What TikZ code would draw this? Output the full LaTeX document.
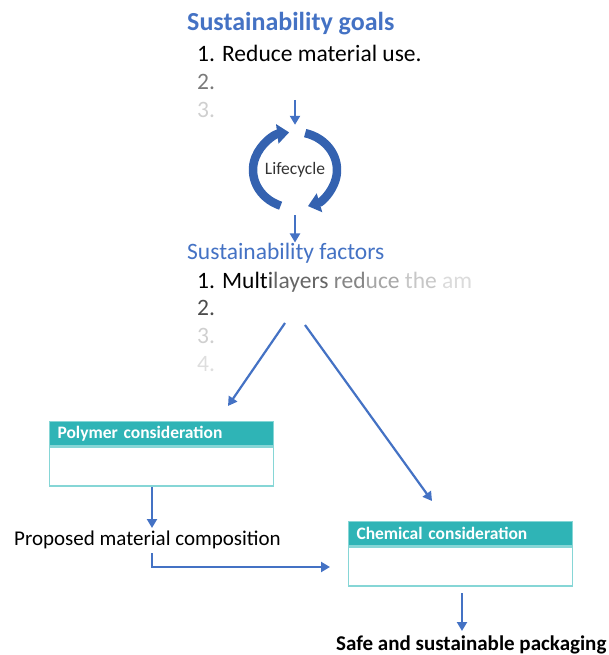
\documentclass[tikz,border=0pt]{standalone}
\usepackage{fontspec}
\setmainfont{Carlito}
\usepackage{xcolor}
\usetikzlibrary{arrows.meta}

\definecolor{goalblue}{HTML}{4472C4}
\definecolor{cycleblue}{HTML}{3462B0}
\definecolor{headteal}{HTML}{2FB4B6}
\definecolor{boxteal}{HTML}{86D6D6}
\definecolor{midgray}{HTML}{7A7A7A}
\definecolor{lightgray}{HTML}{CFCFCF}
\definecolor{palegray}{HTML}{DEDEDE}

\begin{document}
\begin{tikzpicture}[x=1pt, y=-1pt,
    txt/.style={anchor=base west, inner sep=0pt},
    heading/.style={txt, text=goalblue},
    flow/.style={draw=goalblue, line width=2.2pt, -{Triangle[length=9pt, width=10pt]}},
    cycle/.style={draw=cycleblue, line width=8.5pt, -{Triangle[length=12pt, width=19pt]}},
    header/.style={fill=headteal, draw=boxteal, line width=1pt, text=white, anchor=north west,
      minimum width=224pt, minimum height=24pt, inner sep=0pt, align=left, text width=208pt,
      font=\fontsize{17.5}{20}\selectfont\bfseries},
    body/.style={draw=boxteal, line width=1.5pt, anchor=north, minimum width=224pt,
      minimum height=39pt, inner sep=0pt}]
  \useasboundingbox (0,0) rectangle (608,655);

  % goals
  \node[heading, font=\fontsize{26}{30}\selectfont\bfseries] (goals) at (187,31) {Sustainability goals};
  \node[txt, font=\fontsize{23.5}{27}\selectfont] (g1) at (197,62) {1. Reduce material use.};
  \node[txt, text=midgray, font=\fontsize{23.5}{27}\selectfont] (g2) at (197,90) {2.};
  \node[txt, text=lightgray, font=\fontsize{23.5}{27}\selectfont] (g3) at (197,118) {3.};

  % lifecycle
  \coordinate (a1) at (295,100);
  \node[circle, minimum size=90pt, inner sep=0pt, text=black!80, font=\fontsize{17.5}{20}\selectfont] (life) at (295,170) {Lifecycle};
  \draw[cycle] (life.center) ++(110:42 and 38) arc[start angle=110, end angle=262, x radius=42, y radius=38];
  \draw[cycle] (life.center) ++(-76:42 and 38) arc[start angle=-76, end angle=72, x radius=42, y radius=38];
  \draw[flow] (a1) -- (life.north);

  % factors
  \node[heading, font=\fontsize{23.5}{27}\selectfont] (fac) at (187,259) {Sustainability factors};
  \draw[flow] (life.south) -- (fac.north -| life.south);
  \node[txt, font=\fontsize{23.5}{27}\selectfont] (f1) at (197,288) {%
    \textcolor{black}{1. Mult}\textcolor{black!75}{i}\textcolor{black!60}{layers} %
    \textcolor{black!48}{red}\textcolor{black!35}{uce} \textcolor{black!22}{the} \textcolor{black!14}{am}};
  \node[txt, text=black!70, font=\fontsize{23.5}{27}\selectfont] (f2) at (197,315) {2.};
  \node[txt, text=lightgray, font=\fontsize{23.5}{27}\selectfont] (f3) at (197,343) {3.};
  \node[txt, text=palegray, font=\fontsize{23.5}{27}\selectfont] (f4) at (197,371) {4.};

  % boxes
  \node[header] (polyhead) at (49,421) {Polymer consideration};
  \node[body] (polybody) at (polyhead.south) {};
  \node[header] (chemhead) at (348,521) {Chemical consideration};
  \node[body] (chembody) at (chemhead.south) {};

  \coordinate (s1) at (285,323);
  \coordinate (s2) at (305,325);
  \coordinate (e1) at (228,406);
  \coordinate (e2) at (432,501);
  \draw[flow] (s1) -- (e1);
  \draw[flow] (s2) -- (e2);

  % composition
  \node[txt, font=\fontsize{21}{25}\selectfont] (prop) at (14,545) {Proposed material composition};
  \coordinate (p1) at (152,487);
  \coordinate (p2) at (152,528);
  \draw[flow] (p1) -- (p2);
  \coordinate (p3) at (152,553);
  \coordinate (p4) at (330,567);
  \draw[flow] (p3) |- (p4);

  % result
  \node[txt, font=\fontsize{21}{25}\selectfont\bfseries] (safe) at (336,650) {Safe and sustainable packaging};
  \coordinate (r1) at (462,593);
  \coordinate (r2) at (462,631);
  \draw[flow] (r1) -- (r2);
\end{tikzpicture}
\end{document}
